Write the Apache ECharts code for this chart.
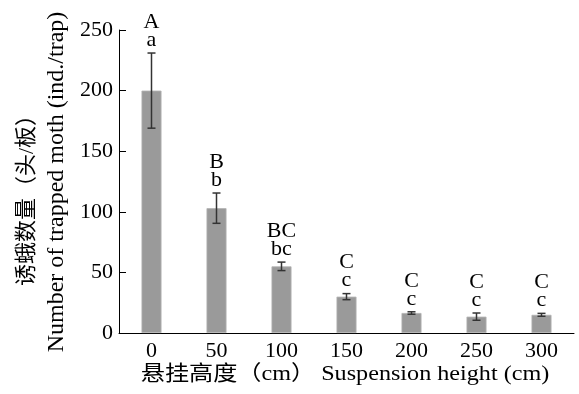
<!DOCTYPE html>
<html><head><meta charset="utf-8">
<script src="https://cdn.jsdelivr.net/npm/echarts@6/dist/echarts.min.js"></script>
<style>html,body{margin:0;padding:0;background:#fff}#c{width:579px;height:394px}</style>
</head><body><div id="c"></div>
<script>
const categories = ['0','50','100','150','200','250','300'];
const means = [200, 103, 55, 30, 16.5, 13.5, 15];
const errors = [31, 12.5, 3.5, 2.5, 1, 3, 1.2];
const upperLetters = ['A','B','BC','C','C','C','C'];
const lowerLetters = ['a','b','bc','c','c','c','c'];
const yTicks = [0, 50, 100, 150, 200, 250];

const FONT = '"Liberation Serif","Times New Roman","Noto Sans CJK SC",serif';
const chart = echarts.init(document.getElementById('c'));
const errData = means.map((m, i) => [i, m - errors[i], m + errors[i]]);

chart.setOption({
  animation: false,
  grid: {left: 119, right: 5, top: 30, bottom: 61},
  xAxis: {
    type: 'category', data: categories,
    axisLine: {lineStyle: {color: '#000', width: 1}},
    axisTick: {inside: true, length: 4, lineStyle: {color: '#000'}},
    axisLabel: {color: '#000', fontFamily: FONT, fontSize: 22, margin: 7}
  },
  yAxis: {
    type: 'value', min: yTicks[0], max: yTicks[yTicks.length - 1], interval: 50,
    splitLine: {show: false},
    axisLine: {show: true, lineStyle: {color: '#000', width: 1}},
    axisTick: {show: true, inside: true, length: 7, lineStyle: {color: '#000'}},
    axisLabel: {color: '#000', fontFamily: FONT, fontSize: 22, margin: 6}
  },
  graphic: [
    {type: 'text', x: 27, y: 195, rotation: Math.PI / 2,
     style: {text: '诱蛾数量（头/板）', font: '22px ' + FONT, fill: '#000', align: 'center', verticalAlign: 'middle'}},
    {type: 'text', x: 57, y: 182, rotation: Math.PI / 2,
     style: {text: 'Number of trapped moth (ind./trap)', font: '24px ' + FONT, fill: '#000', align: 'center', verticalAlign: 'middle'}},
    {type: 'text', x: 345, y: 374, scaleX: 1.15,
     style: {text: '悬挂高度（cm） Suspension height (cm)', font: '21px ' + FONT, fill: '#000', align: 'center', verticalAlign: 'middle'}}
  ],
  series: [
    {type: 'bar', data: means, barWidth: 20,
     itemStyle: {color: '#9a9a9a', borderColor: '#b4b4b4', borderWidth: 0.8}},
    {type: 'custom', data: errData,
     renderItem: function (params, api) {
       const x = api.value(0);
       const lo = api.coord([x, api.value(1)]);
       const hi = api.coord([x, api.value(2)]);
       const hw = 4;
       const st = {stroke: '#333', lineWidth: 1.5};
       const i = params.dataIndex;
       return {type: 'group', children: [
         {type: 'line', shape: {x1: hi[0], y1: hi[1], x2: lo[0], y2: lo[1]}, style: st},
         {type: 'line', shape: {x1: hi[0] - hw, y1: hi[1], x2: hi[0] + hw, y2: hi[1]}, style: st},
         {type: 'line', shape: {x1: lo[0] - hw, y1: lo[1], x2: lo[0] + hw, y2: lo[1]}, style: st},
         {type: 'text', x: hi[0], y: hi[1] - 4,
          style: {text: upperLetters[i] + '\n' + lowerLetters[i], font: '22px ' + FONT, fill: '#000',
                  align: 'center', verticalAlign: 'bottom', lineHeight: 18}}
       ]};
     },
     z: 5}
  ]
});
</script></body></html>
